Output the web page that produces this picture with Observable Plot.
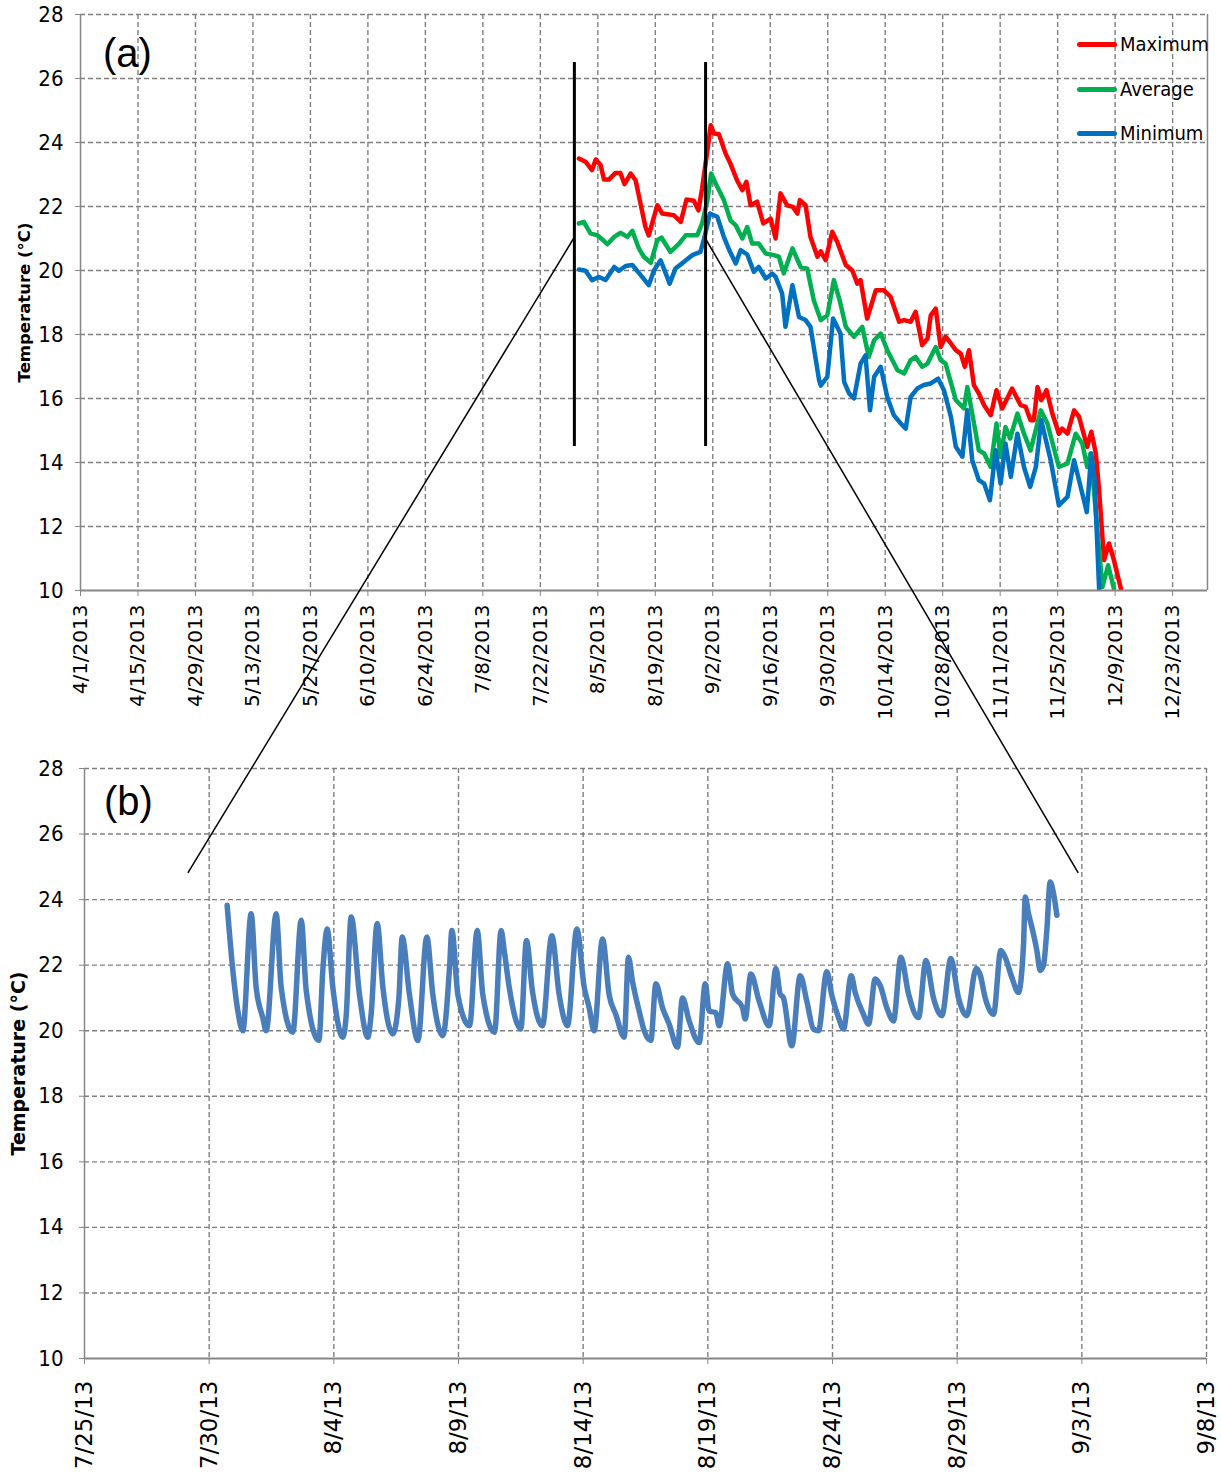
<!DOCTYPE html>
<html><head><meta charset="utf-8">
<script src="https://cdn.jsdelivr.net/npm/d3@7"></script>
<script src="https://cdn.jsdelivr.net/npm/@observablehq/plot@0.6"></script>
<style>
body{margin:0;background:#fff;}
#fig{position:relative;width:1221px;height:1475px;overflow:hidden;background:#fff;}
#fig svg{display:block;overflow:visible;}
.plbl{position:absolute;font-family:"Liberation Sans",Arial,sans-serif;font-size:40px;line-height:40px;color:#000;}
.leg{position:absolute;display:flex;align-items:center;height:24px;font-family:"Liberation Sans Narrow","DejaVu Sans Condensed",sans-serif;font-size:20px;color:#000;}
.leg span.sw{display:inline-block;width:40px;height:5px;border-radius:3px;margin-right:3px;}
</style></head><body><div id="fig"></div>
<script>
// ---------- data: panel (a) daily statistics (x = days since 4/1/2013) ----------
const seriesNames = ["Maximum", "Average", "Minimum"];
const maxDay = [121.4,123.0,124.6,125.5,126.7,127.5,128.7,130.3,131.5,132.5,134.0,135.2,136.4,137.6,138.4,140.5,141.7,142.9,144.5,146.2,147.6,149.4,150.5,151.4,152.7,153.5,154.3,155.5,157.1,158.3,159.9,161.2,162.2,163.2,164.8,166.3,168.1,169.3,170.5,172.1,173.5,174.6,175.2,176.6,177.8,179.5,180.3,181.5,183.1,184.3,186.4,188.0,189.2,190.0,191.6,193.7,195.7,197.3,199.4,200.6,202.2,203.4,205.0,206.3,207.1,208.3,209.5,210.7,212.0,213.2,214.4,215.4,216.4,217.6,218.8,220.1,221.7,223.1,224.5,226.9,229.0,230.2,231.4,232.2,233.1,234.0,235.3,236.7,238.3,239.1,240.4,242.0,243.2,245.2,246.2,247.3,248.1,249.3,250.5,251.7,253.4];
const maxTemp = [23.5,23.4,23.14,23.47,23.29,22.84,22.84,23.05,23.05,22.7,23.03,22.82,22.09,21.36,21.1,22.04,21.78,21.76,21.73,21.52,22.22,22.18,21.88,22.56,23.76,24.54,24.28,24.26,23.66,23.34,22.82,22.51,22.77,22.04,22.15,21.47,21.62,21.0,22.41,22.04,21.99,21.78,22.2,22.04,21.05,20.43,20.6,20.32,21.21,20.9,20.17,20.0,19.59,19.7,18.5,19.38,19.38,19.18,18.4,18.45,18.4,18.71,17.67,17.87,18.6,18.81,17.61,17.93,17.72,17.51,17.4,16.99,17.51,16.42,16.16,15.79,15.48,16.26,15.69,16.31,15.79,15.74,15.32,15.32,16.36,15.95,16.26,15.53,14.9,15.06,14.9,15.63,15.43,14.49,14.96,14.28,13.13,10.95,11.47,10.95,10.06];
const avgDay = [121.4,122.6,124.2,125.9,127.1,128.3,130.0,131.5,133.2,134.4,136.0,137.2,138.9,140.5,141.5,143.7,145.8,147.4,150.2,151.4,152.7,153.6,154.7,156.7,158.3,159.6,161.2,162.4,163.6,165.2,166.9,168.9,170.1,171.3,173.4,175.4,177.0,178.6,180.3,181.9,183.5,184.9,186.4,188.4,190.4,192.0,193.3,194.9,196.5,199.0,200.6,202.2,203.4,205.0,206.3,208.3,209.5,210.7,213.2,215.2,216.0,217.2,218.8,220.1,221.7,223.1,224.1,225.3,226.4,228.2,229.8,231.4,233.9,235.5,238.3,240.4,242.4,244.0,245.2,246.0,246.9,248.1,248.9,250.3,251.7];
const avgTemp = [21.47,21.52,21.16,21.1,20.97,20.82,21.05,21.18,21.05,21.24,20.69,20.43,20.24,20.95,21.03,20.58,20.84,21.1,21.1,21.47,22.2,23.03,22.72,22.2,21.57,21.41,21.0,21.36,20.84,20.84,20.53,20.48,20.43,19.91,20.69,20.11,20.06,19.07,18.45,18.6,19.7,19.07,18.24,17.93,18.24,17.3,17.82,18.03,17.51,16.88,16.78,17.2,17.3,16.99,17.09,17.61,17.2,17.09,15.95,15.69,16.36,15.53,14.38,14.28,13.86,15.22,14.18,15.11,14.75,15.53,14.9,14.38,15.63,15.22,13.86,13.97,14.9,14.59,13.86,14.28,13.03,11.26,10.11,10.79,10.06];
const minDay = [121.4,123.0,124.6,126.3,127.9,130.0,131.1,132.8,134.4,136.8,138.4,139.7,141.3,143.5,144.9,147.0,149.0,151.0,152.0,153.3,155.1,156.7,158.0,159.6,160.8,162.4,164.0,165.2,166.9,168.5,169.3,170.9,171.7,173.4,175.0,176.6,177.8,179.9,180.3,181.9,183.3,185.1,186.0,187.2,188.4,190.0,191.2,192.3,193.3,194.9,196.5,198.1,199.8,201.0,202.2,203.8,205.4,207.1,208.9,210.3,212.0,213.2,214.8,216.0,217.2,218.8,220.1,221.5,222.9,224.1,225.3,226.6,228.2,229.8,231.3,232.7,234.0,236.3,238.3,240.4,242.0,243.6,245.1,246.2,247.0,248.1,248.6];
const minTemp = [20.03,19.99,19.7,19.8,19.7,20.11,19.99,20.14,20.17,19.8,19.54,20.01,20.32,19.59,20.06,20.27,20.48,20.58,21.05,21.78,21.68,21.05,20.64,20.22,20.64,20.5,19.96,20.11,19.75,19.9,19.8,19.28,18.24,19.54,18.55,18.45,18.24,16.57,16.4,16.68,18.5,18.03,16.52,16.16,16.0,17.09,17.35,15.63,16.68,16.99,16.05,15.48,15.22,15.06,16.05,16.31,16.42,16.47,16.62,16.26,15.43,14.49,14.18,15.63,14.07,13.45,13.34,12.82,14.38,13.34,14.59,13.55,14.9,13.86,13.24,13.86,15.32,14.07,12.66,12.93,14.07,13.24,12.45,14.28,13.45,10.06,9.0];

// ---------- data: panel (b) hourly record (x = hours since 7/30/2013 00:00) ----------
const bHour = [17.3,22.8,27.6,32.4,40.4,45.2,51.6,54.9,64.5,69.3,80.5,88.6,93.4,105.6,109.4,113.6,119,128.7,131.9,136.7,144.7,152.7,155.9,161.7,167.2,176.8,182.6,185.8,192.8,200.9,209.5,215.3,224.9,231.4,233.6,239.4,250.6,258,263.4,274.7,281,284,288.8,300,305.4,311.2,320.8,329.8,336.9,344.9,353.9,361,365.8,370.6,378.6,385,391.4,399.5,403.6,407.5,413.9,418.7,425.1,430,436.4,442.8,450.8,455.6,462,471.7,477.5,481.3,487.7,490.9,499,503.8,513.4,516,521.4,529.4,539,545.5,549.6,552.8,560.8,568.9,575.3,581.7,586.5,594.5,599.4,605.8,610.6,618,621.8,629.8,634.7,641.1,645.9,652.3,658.7,665.8,673.2,682.8,689.9,697.2,705.3,713.9,721.3,729.3,738.3,742.2,747,755,762,766.2,772.6,779,783.9,785.5,788.7,791.9,796.7,799.9,803.1,806.3,809.5,812.8,816];
const bTemp = [23.83,21.84,20.6,20.0,23.57,21.33,20.4,20.0,23.57,21.33,19.95,23.37,21.23,19.7,21.84,23.1,21.33,19.8,20.46,23.47,21.1,19.8,20.5,23.27,21.33,19.9,21.0,22.86,21.1,19.7,22.86,21.1,19.85,21.94,23.06,21.1,20.15,23.06,21.1,19.95,23.06,22.45,21.33,20.05,22.75,21.2,20.15,22.9,21.1,20.15,23.1,21.33,20.7,20.0,22.8,21.1,20.5,19.8,22.24,21.5,20.6,20.0,19.7,21.43,20.7,20.2,19.5,21.0,20.3,19.64,21.43,20.6,20.55,20.15,22.04,21.12,20.7,20.36,21.73,20.9,20.15,21.9,21.12,21.0,19.54,21.68,20.9,20.05,20.0,21.8,21.07,20.4,20.05,21.68,21.17,20.5,20.2,21.58,21.38,20.7,20.3,22.24,21.12,20.4,22.14,21.0,20.46,22.2,21.0,20.46,21.9,21.7,21.0,20.5,22.45,22.24,21.63,21.17,22.65,24.08,23.57,23.16,22.45,21.84,22.0,23.06,24.54,24.18,23.52];

// ---------- ticks / labels ----------
const aTickLabels = ["4/1/2013","4/15/2013","4/29/2013","5/13/2013","5/27/2013","6/10/2013","6/24/2013","7/8/2013","7/22/2013","8/5/2013","8/19/2013","9/2/2013","9/16/2013","9/30/2013","10/14/2013","10/28/2013","11/11/2013","11/25/2013","12/9/2013","12/23/2013"];
const bTickLabels = ["7/25/13","7/30/13","8/4/13","8/9/13","8/14/13","8/19/13","8/24/13","8/29/13","9/3/13","9/8/13"];
const yTicks = [10,12,14,16,18,20,22,24,26,28];
const yLabel = "Temperature (°C)";
const panelLabels = ["(a)", "(b)"];

// zoom window markers (bars in panel a, connector ends in panel b)
const zoomBarDates = ["2013-07-30T07:00Z", "2013-08-31T06:00Z"];
const zoomBarSpan = [14.5, 26.5];
const linkTempA = 21.0;
const linkDatesB = ["2013-07-29T04:00Z", "2013-09-02T21:00Z"];
const linkTempB = 24.8;

// ---------- styles ----------
const lineColors = ["#ff0000", "#00b050", "#0070c0"];
const gridColor = "#7f7f7f";
const axisColor = "#868686";
const tickFontA = "DejaVu Sans";
const numFont = "'Liberation Sans Narrow','DejaVu Sans Condensed',sans-serif";
const gridStyle = {stroke: gridColor, strokeWidth: 1.4, strokeDasharray: "5,3"};

// ---------- helpers ----------
const parseMDY = s => { const [m, d, y] = s.split("/").map(Number); return new Date(Date.UTC(y < 100 ? 2000 + y : y, m - 1, d)); };
const baseA = Date.UTC(2013, 3, 1);
const baseB = Date.UTC(2013, 6, 30);
const dayToDate = d => new Date(baseA + d * 864e5);
const hourToDate = h => new Date(baseB + h * 36e5);

const seriesDays = [maxDay, avgDay, minDay];
const seriesTemps = [maxTemp, avgTemp, minTemp];
const rowsA = seriesNames.flatMap((n, k) => seriesDays[k].map((d, i) => ({series: n, date: dayToDate(d), temp: seriesTemps[k][i]})));
const rowsB = bHour.map((h, i) => ({date: hourToDate(h), temp: bTemp[i]}));

const ticksA = aTickLabels.map(parseMDY);
const ticksB = bTickLabels.map(parseMDY);
const lblA = new Map(ticksA.map((d, i) => [+d, aTickLabels[i]]));
const lblB = new Map(ticksB.map((d, i) => [+d, bTickLabels[i]]));
const domainA = [parseMDY("4/1/2013"), new Date(Date.UTC(2013, 11, 31, 12))];
const domainB = [ticksB[0], ticksB[ticksB.length - 1]];

const fig = document.getElementById("fig");

// ---------- panel (a) ----------
const plotA = Plot.plot({
  width: 1221, height: 725,
  marginLeft: 80, marginRight: 14, marginTop: 14, marginBottom: 135,
  style: {fontFamily: tickFontA, background: "transparent", overflow: "visible"},
  x: {type: "utc", domain: domainA},
  y: {domain: [10, 28]},
  color: {domain: seriesNames, range: lineColors},
  marks: [
    Plot.ruleX(ticksA.slice(1), gridStyle),
    Plot.ruleY(yTicks.slice(1), gridStyle),
    Plot.ruleX([domainA[1]], {stroke: axisColor, strokeWidth: 1.5}),
    Plot.line(rowsA, {x: "date", y: "temp", z: "series", stroke: "series", strokeWidth: 4.5, clip: true, strokeLinejoin: "round"}),
    Plot.ruleX(zoomBarDates.map(s => new Date(s)), {y1: zoomBarSpan[0], y2: zoomBarSpan[1], stroke: "#000", strokeWidth: 3}),
    Plot.ruleX([domainA[0]], {stroke: axisColor, strokeWidth: 1.5}),
    Plot.ruleY([10], {stroke: axisColor, strokeWidth: 2.2}),
    Plot.axisX({ticks: ticksA, tickFormat: d => lblA.get(+d), tickRotate: -90, tickSize: 6, tickPadding: 8, stroke: axisColor, fill: "#000", fontSize: 20, fontFamily: tickFontA, label: null}),
    Plot.axisY({ticks: yTicks, tickSize: 5, tickPadding: 12, stroke: axisColor, fill: "#000", fontSize: 22, fontFamily: numFont, label: null}),
    Plot.text([yLabel], {frameAnchor: "left", textAnchor: "middle", rotate: -90, dx: -56, fontWeight: "bold", fontSize: 16.5, fontFamily: "DejaVu Sans", fill: "#000"})
  ]
});
fig.appendChild(plotA);

// ---------- panel (b) ----------
const plotB = Plot.plot({
  width: 1221, height: 750,
  marginLeft: 84, marginRight: 15, marginTop: 43, marginBottom: 117,
  style: {fontFamily: tickFontA, background: "transparent", overflow: "visible"},
  x: {type: "utc", domain: domainB},
  y: {domain: [10, 28]},
  marks: [
    Plot.ruleX(ticksB.slice(1), gridStyle),
    Plot.ruleY(yTicks.slice(1), gridStyle),
    Plot.line(rowsB, {x: "date", y: "temp", stroke: "#4a7ebb", strokeWidth: 5.5, strokeLinejoin: "round", strokeLinecap: "round", curve: "monotone-x"}),
    Plot.ruleX([domainB[0]], {stroke: axisColor, strokeWidth: 1.5}),
    Plot.ruleY([10], {stroke: axisColor, strokeWidth: 2.2}),
    Plot.axisX({ticks: ticksB, tickFormat: d => lblB.get(+d), tickRotate: -90, tickSize: 6, tickPadding: 16, stroke: axisColor, fill: "#000", fontSize: 23, fontFamily: tickFontA, label: null}),
    Plot.axisY({ticks: yTicks, tickSize: 5, tickPadding: 16, stroke: axisColor, fill: "#000", fontSize: 22, fontFamily: numFont, label: null}),
    Plot.text([yLabel], {frameAnchor: "left", textAnchor: "middle", rotate: -90, dx: -66, fontWeight: "bold", fontSize: 19, fontFamily: "DejaVu Sans", fill: "#000"})
  ]
});
fig.appendChild(plotB);

// ---------- panel labels and legend (HTML overlays) ----------
const pa = document.createElement("div"); pa.className = "plbl"; pa.textContent = panelLabels[0];
pa.style.left = "103px"; pa.style.top = "33px"; fig.appendChild(pa);
const pb = document.createElement("div"); pb.className = "plbl"; pb.textContent = panelLabels[1];
pb.style.left = "104px"; pb.style.top = "781px"; fig.appendChild(pb);

const legTops = [32, 77, 121];
seriesNames.forEach((n, i) => {
  const row = document.createElement("div"); row.className = "leg";
  row.style.left = "1077px"; row.style.top = legTops[i] + "px";
  const sw = document.createElement("span"); sw.className = "sw"; sw.style.background = lineColors[i];
  row.appendChild(sw); row.appendChild(document.createTextNode(n));
  fig.appendChild(row);
});

// ---------- connector lines between panels (through both plots' scales) ----------
const offB = plotA.getBoundingClientRect().height;
const xA = plotA.scale("x"), yA = plotA.scale("y"), xB = plotB.scale("x"), yB = plotB.scale("y");
const links = zoomBarDates.map((s, i) => ({
  x1: xA.apply(new Date(s)), y1: yA.apply(linkTempA),
  x2: xB.apply(new Date(linkDatesB[i])), y2: offB + yB.apply(linkTempB)
}));
const ov = d3.select(fig).append("svg")
  .attr("width", 1221).attr("height", 1475)
  .style("position", "absolute").style("left", 0).style("top", 0).style("pointer-events", "none");
ov.selectAll("line").data(links).join("line")
  .attr("x1", d => d.x1).attr("y1", d => d.y1).attr("x2", d => d.x2).attr("y2", d => d.y2)
  .attr("stroke", "#000").attr("stroke-width", 1.5);
</script></body></html>
